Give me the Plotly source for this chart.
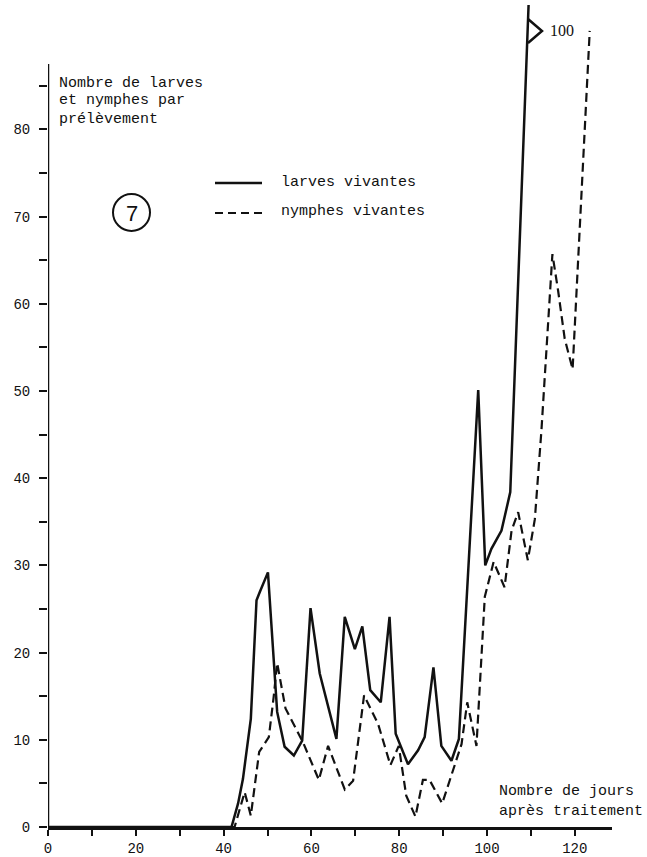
import plotly.graph_objects as go

# ---- data ----
larves_x = [0, 41.8, 43.3, 44.4, 46.2, 47.5, 48.2, 50.1, 52.2, 53.9, 56.0, 57.9, 59.8, 61.9,
            65.7, 67.6, 69.9, 71.6, 73.4, 75.8, 77.8, 79.2, 82.0, 84.3, 85.8, 87.8, 89.6,
            91.9, 93.6, 98.0, 99.6, 101.0, 103.3, 105.3, 109.9]
larves_y = [0, 0, 2.7, 5.5, 12.4, 26, 26.9, 29.2, 13.2, 9.2, 8.2, 9.9, 25.1, 17.6,
            10.1, 24.1, 20.4, 23, 15.7, 14.3, 24.1, 10.7, 7.2, 8.8, 10.3, 18.3, 9.3,
            7.6, 10.1, 50.1, 30, 31.9, 34, 38.4, 100]

nymphes_x = [0, 42.5, 44.8, 46.2, 48.1, 50.3, 51.4, 52.2, 54.1, 58.1, 61.7, 63.8, 67.6,
             69.5, 72.0, 75.2, 78.0, 79.9, 81.6, 83.7, 85.4, 86.9, 89.8, 93.0, 94.2, 95.5,
             97.6, 99.5, 101.5, 104.0, 105.6, 107.1, 109.3, 110.9, 112.4, 114.9, 116.2,
             117.7, 119.5, 123.4]
nymphes_y = [0, 0, 4.0, 1.3, 8.6, 10.3, 14.9, 18.8, 13.6, 9.7, 5.4, 9.3, 4.3,
             5.3, 15.1, 11.8, 7.1, 9.3, 3.6, 1.2, 5.4, 5.4, 2.7, 7.6, 9.5, 14.3,
             9.3, 26.4, 30.4, 27.5, 34, 36.1, 30.6, 35.3, 45.5, 65.7, 61.5,
             56, 52.5, 91.3]

x_tickvals = list(range(0, 121, 10))
x_ticktext = [str(v) if v % 20 == 0 else "" for v in x_tickvals]
y_tickvals = list(range(0, 86, 5))
y_ticktext = [str(v) if v % 10 == 0 else "" for v in y_tickvals]

# ---- layout geometry ----
W, H = 647, 857
L, R, T, B = 48, 35, 5, 30
PW, PH = W - L - R, H - T - B
XPX = 4.39   # pixels per day
YPX = 8.72   # pixels per unit
x_max = PW / XPX
y_max = PH / YPX


def pxx(px):
    return (px - L) / PW


def pxy(py):
    return (H - B - py) / PH


MONO = "Liberation Mono"
INK = "#111111"

fig = go.Figure()
fig.add_trace(go.Scatter(x=larves_x, y=larves_y, mode="lines", name="larves vivantes",
                         line=dict(color=INK, width=2.5), showlegend=False))
fig.add_trace(go.Scatter(x=nymphes_x, y=nymphes_y, mode="lines", name="nymphes vivantes",
                         line=dict(color=INK, width=2.2, dash="9px,5px"), showlegend=False))

chev = "M {x0},{y0} L {x1},{y1} L {x2},{y2}".format(
    x0=pxx(528), y0=pxy(19), x1=pxx(542), y1=pxy(31), x2=pxx(528), y2=pxy(43))

shapes = [
    # y axis line (stops below top)
    dict(type="line", xref="x", yref="y", x0=0, x1=0, y0=0, y1=87.5,
         line=dict(color=INK, width=2.5)),
    # legend samples
    dict(type="line", xref="paper", yref="paper", x0=pxx(215), x1=pxx(262),
         y0=pxy(183), y1=pxy(183), line=dict(color=INK, width=2.5)),
    dict(type="line", xref="paper", yref="paper", x0=pxx(215), x1=pxx(262),
         y0=pxy(213), y1=pxy(213), line=dict(color=INK, width=2.2, dash="8px,5px")),
    # circled number
    dict(type="circle", xref="paper", yref="paper", x0=pxx(113), x1=pxx(150),
         y0=pxy(231), y1=pxy(194), line=dict(color=INK, width=2)),
    # break mark (value 100 off the chart)
    dict(type="path", xref="paper", yref="paper", path=chev,
         line=dict(color=INK, width=2.5)),
]

annotations = []


def txt(text, px, py, size=15, family=MONO, xanchor="left"):
    annotations.append(dict(text=text, x=pxx(px), y=pxy(py), xref="paper", yref="paper",
                            xanchor=xanchor, yanchor="middle", showarrow=False,
                            font=dict(family=family, size=size, color=INK)))


txt("Nombre de larves", 57, 83)
txt("et nymphes par", 57, 101)
txt("prélèvement", 57, 119)
txt("larves vivantes", 279, 182)
txt("nymphes vivantes", 279, 211)
txt("7", 131.5, 213, size=22, family="Liberation Sans", xanchor="center")
txt("Nombre de jours", 497, 791)
txt("après traitement", 497, 811)
txt("100", 548, 31, size=16, family="Liberation Serif")

fig.update_layout(
    width=W, height=H,
    margin=dict(l=L, r=R, t=T, b=B, pad=0),
    paper_bgcolor="white", plot_bgcolor="white",
    shapes=shapes, annotations=annotations,
    showlegend=False,
    xaxis=dict(range=[0, x_max], showgrid=False, zeroline=False,
               showline=True, linecolor=INK, linewidth=2.5,
               ticks="outside", ticklen=6, tickwidth=2, tickcolor=INK,
               tickvals=x_tickvals, ticktext=x_ticktext,
               tickfont=dict(family=MONO, size=14, color=INK),
               ticklabelstandoff=0, automargin=False, fixedrange=True),
    yaxis=dict(range=[0, y_max], showgrid=False, zeroline=False,
               showline=False,
               ticks="outside", ticklen=8, tickwidth=1.5, tickcolor=INK,
               tickvals=y_tickvals, ticktext=y_ticktext,
               tickfont=dict(family=MONO, size=14, color=INK),
               ticklabelstandoff=6, automargin=False, fixedrange=True),
)

fig.write_html("out.html")
